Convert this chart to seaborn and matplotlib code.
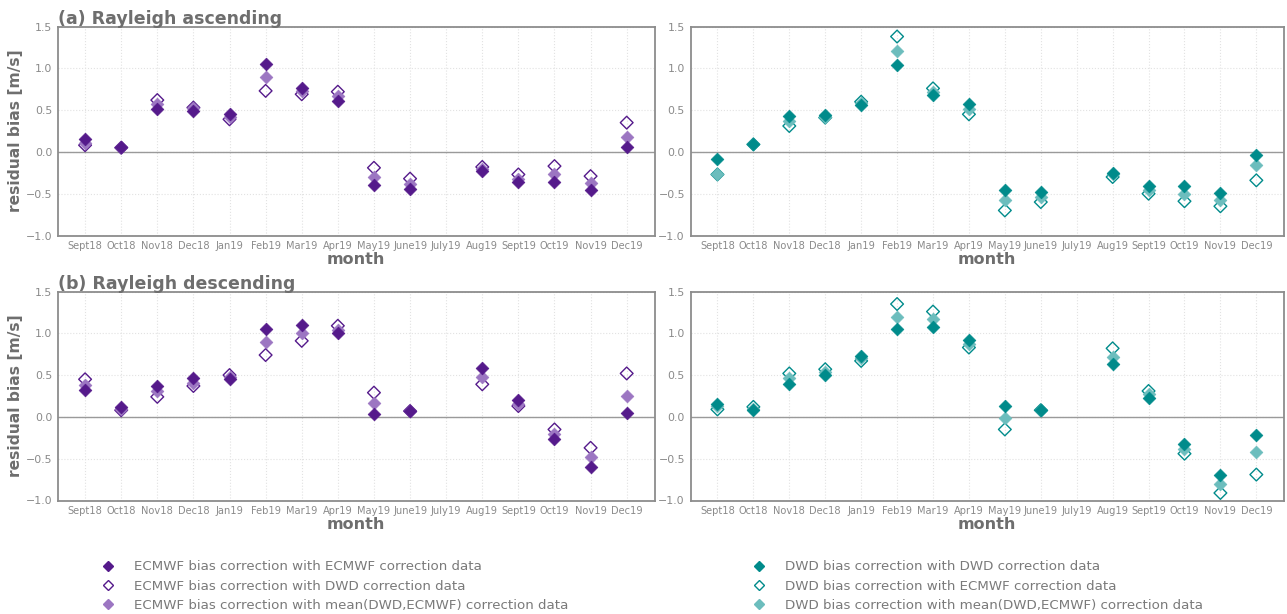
import numpy as np
import pandas as pd
import matplotlib
matplotlib.use("Agg")
import matplotlib.pyplot as plt
from matplotlib.lines import Line2D
import seaborn as sns

months = ["Sept18", "Oct18", "Nov18", "Dec18", "Jan19", "Feb19", "Mar19", "Apr19",
          "May19", "June19", "July19", "Aug19", "Sept19", "Oct19", "Nov19", "Dec19"]
nan = np.nan

# (a) Rayleigh ascending - ECMWF bias correction
asc_ecmwf_ecmwf = [0.16, 0.06, 0.51, 0.49, 0.45, 1.05, 0.76, 0.61, -0.40, -0.44, nan, -0.23, -0.36, -0.36, -0.45, 0.06]
asc_ecmwf_dwd   = [0.08, 0.05, 0.62, 0.53, 0.39, 0.73, 0.69, 0.72, -0.19, -0.32, nan, -0.18, -0.27, -0.17, -0.29, 0.35]
asc_ecmwf_mean  = [0.11, 0.055, 0.57, 0.52, 0.42, 0.89, 0.73, 0.67, -0.30, -0.38, nan, -0.20, -0.32, -0.26, -0.37, 0.18]
# (a) Rayleigh ascending - DWD bias correction
asc_dwd_dwd     = [-0.09, 0.09, 0.43, 0.44, 0.56, 1.04, 0.68, 0.57, -0.46, -0.48, nan, -0.25, -0.41, -0.41, -0.49, -0.04]
asc_dwd_ecmwf   = [-0.27, 0.09, 0.31, 0.41, 0.60, 1.38, 0.76, 0.45, -0.70, -0.60, nan, -0.30, -0.50, -0.59, -0.65, -0.34]
asc_dwd_mean    = [-0.26, 0.09, 0.37, 0.42, 0.59, 1.21, 0.72, 0.51, -0.58, -0.54, nan, -0.27, -0.45, -0.50, -0.57, -0.16]
# (b) Rayleigh descending - ECMWF bias correction
desc_ecmwf_ecmwf = [0.32, 0.12, 0.37, 0.46, 0.45, 1.05, 1.10, 1.00, 0.04, 0.07, nan, 0.58, 0.20, -0.27, -0.60, 0.05]
desc_ecmwf_dwd   = [0.45, 0.08, 0.24, 0.37, 0.50, 0.74, 0.91, 1.09, 0.29, 0.07, nan, 0.39, 0.13, -0.15, -0.37, 0.52]
desc_ecmwf_mean  = [0.38, 0.10, 0.31, 0.41, 0.48, 0.89, 1.00, 1.04, 0.17, 0.07, nan, 0.48, 0.16, -0.21, -0.48, 0.25]
# (b) Rayleigh descending - DWD bias correction
desc_dwd_dwd     = [0.16, 0.08, 0.39, 0.50, 0.73, 1.05, 1.07, 0.92, 0.13, 0.08, nan, 0.63, 0.23, -0.33, -0.69, -0.22]
desc_dwd_ecmwf   = [0.09, 0.12, 0.52, 0.57, 0.67, 1.35, 1.26, 0.83, -0.15, 0.08, nan, 0.82, 0.31, -0.44, -0.91, -0.69]
desc_dwd_mean    = [0.13, 0.10, 0.46, 0.54, 0.70, 1.20, 1.17, 0.87, -0.01, 0.08, nan, 0.72, 0.27, -0.38, -0.80, -0.42]

ecmwf_labels = ["ECMWF bias correction with ECMWF correction data",
                "ECMWF bias correction with DWD correction data",
                "ECMWF bias correction with mean(DWD,ECMWF) correction data"]
dwd_labels = ["DWD bias correction with DWD correction data",
              "DWD bias correction with ECMWF correction data",
              "DWD bias correction with mean(DWD,ECMWF) correction data"]
panel_titles = ["(a) Rayleigh ascending", "(b) Rayleigh descending"]

PURPLE = "#551a8b"
PURPLE_MEAN = "#9c76c2"
TEAL = "#008b8b"
TEAL_MEAN = "#6cbdbd"
GRAY = "#6e6e6e"
TICKGRAY = "#8a8a8a"

sns.set_theme(style="white")
plt.rcParams["font.family"] = ["DejaVu Sans"]

fig = plt.figure(figsize=(12.87, 6.14), dpi=100)
H = 614.0
W = 1287.0
def rect(l, t, r, b):
    return [l / W, 1 - b / H, (r - l) / W, (b - t) / H]

axes = [[fig.add_axes(rect(58, 26.5, 654.5, 235.5)), fig.add_axes(rect(690.5, 26.5, 1284, 235.5))],
        [fig.add_axes(rect(58, 291.5, 654.5, 500.5)), fig.add_axes(rect(690.5, 291.5, 1284, 500.5))]]

xpos = np.arange(len(months))

def make_df(main, alt, mean):
    return pd.DataFrame({"month_idx": xpos, "main": main, "alt": alt, "mean": mean})

panels = [[make_df(asc_ecmwf_ecmwf, asc_ecmwf_dwd, asc_ecmwf_mean),
           make_df(asc_dwd_dwd, asc_dwd_ecmwf, asc_dwd_mean)],
          [make_df(desc_ecmwf_ecmwf, desc_ecmwf_dwd, desc_ecmwf_mean),
           make_df(desc_dwd_dwd, desc_dwd_ecmwf, desc_dwd_mean)]]
colors = [(PURPLE, PURPLE_MEAN), (TEAL, TEAL_MEAN)]

S = 42
for r in range(2):
    for c in range(2):
        ax = axes[r][c]
        df = panels[r][c]
        dark, light = colors[c]
        ax.axhline(0, color="#9a9a9a", lw=1.0, zorder=1)
        sns.scatterplot(data=df, x="month_idx", y="alt", ax=ax, marker="D", s=S,
                        facecolor="none", edgecolor=dark, linewidth=1.0, zorder=3)
        sns.scatterplot(data=df, x="month_idx", y="mean", ax=ax, marker="D", s=S,
                        color=light, edgecolor=light, linewidth=0.5, zorder=4)
        sns.scatterplot(data=df, x="month_idx", y="main", ax=ax, marker="D", s=S,
                        color=dark, edgecolor=dark, linewidth=0.5, zorder=5)
        ax.set_xlim(-0.75, 15.77)
        ax.set_ylim(-1.0, 1.5)
        ax.set_xticks(xpos)
        ax.set_xticklabels(months)
        ax.set_yticks([-1.0, -0.5, 0.0, 0.5, 1.0, 1.5])
        ax.tick_params(axis="x", labelsize=7.1, colors=TICKGRAY, length=0, pad=4)
        ax.tick_params(axis="y", labelsize=7.9, colors=TICKGRAY, length=0, pad=4)
        ax.grid(True, color="#e2e2e2", linestyle=":", linewidth=0.8)
        ax.set_axisbelow(True)
        for sp in ax.spines.values():
            sp.set_color("#8c8c8c")
            sp.set_linewidth(1.3)
        ax.set_xlabel("month", fontsize=11.5, fontweight="bold", color=GRAY, labelpad=1)
        if c == 0:
            ax.set_ylabel("residual bias [m/s]", fontsize=11.2, fontweight="bold", color=GRAY)
            ax.yaxis.set_label_coords(-0.059, 0.5)
            ax.set_title(panel_titles[r], loc="left", fontsize=12.5, fontweight="bold", color=GRAY, pad=2)
        else:
            ax.set_ylabel("")

def handles(dark, light):
    return [Line2D([], [], ls="none", marker="D", markersize=5, color=dark, mec=dark),
            Line2D([], [], ls="none", marker="D", markersize=5, mfc="none", mec=dark, mew=1.0),
            Line2D([], [], ls="none", marker="D", markersize=5, color=light, mec=light)]

leg_kw = dict(frameon=False, fontsize=9.6, labelcolor="#7a7a7a", handletextpad=1.45,
              labelspacing=0.48, handlelength=1.0, loc="upper left", borderaxespad=0)
fig.legend(handles(PURPLE, PURPLE_MEAN), ecmwf_labels, bbox_to_anchor=(96 / W, 1 - 555 / H), **leg_kw)
fig.legend(handles(TEAL, TEAL_MEAN), dwd_labels, bbox_to_anchor=(747 / W, 1 - 555 / H), **leg_kw)

fig.savefig("out.png", dpi=100)
